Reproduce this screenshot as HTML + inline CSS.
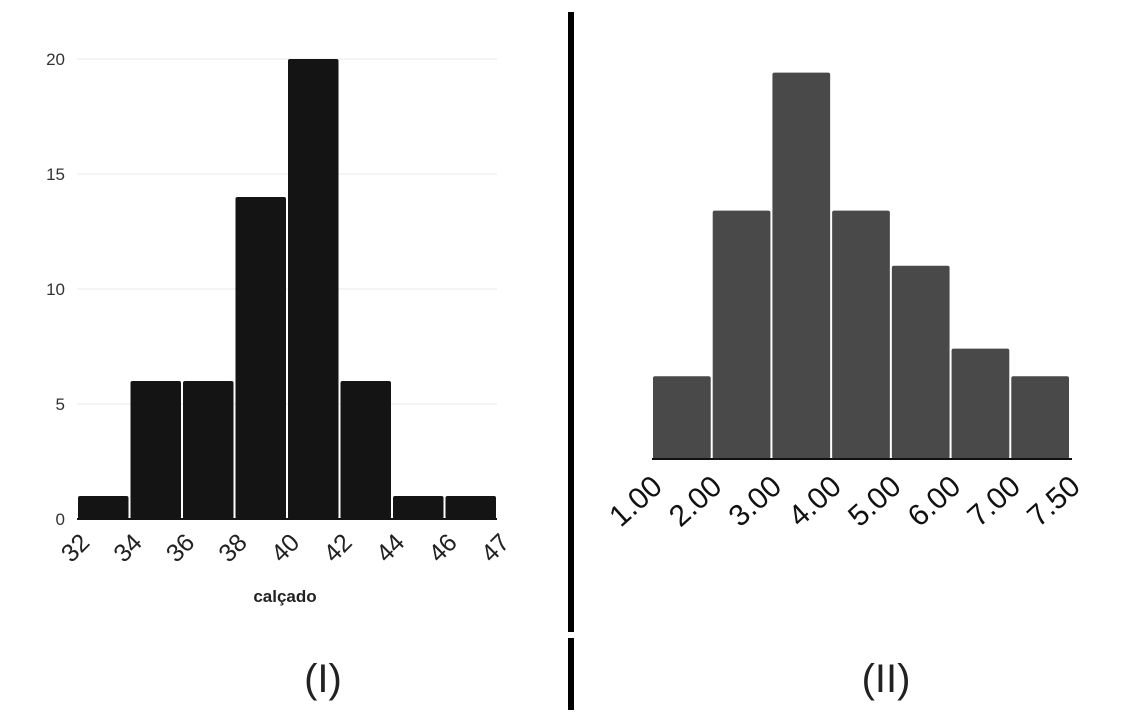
<!DOCTYPE html>
<html><head><meta charset="utf-8"><style>
body{margin:0;background:#fff;width:1137px;height:715px;overflow:hidden}
svg{display:block}
</style></head><body>
<svg id="s" width="1137" height="715" xmlns="http://www.w3.org/2000/svg" font-family="Liberation Sans, sans-serif">
<rect x="568" y="12" width="6" height="620" fill="#000"/>
<rect x="568" y="638" width="6" height="72" fill="#000"/>
<text x="323" y="692" font-size="40" text-anchor="middle" fill="#222">(I)</text>
<text x="886" y="692" font-size="40" text-anchor="middle" fill="#222">(II)</text>
<text x="285" y="602" font-size="17" font-weight="bold" text-anchor="middle" fill="#222">calçado</text>
<g id="left"></g>
<g id="right"></g>
</svg>
<script>
const leftEdgeLabels=["32","34","36","38","40","42","44","46","47"];
const leftCounts=[1,6,6,14,20,6,1,1];
const leftYTicks=[0,5,10,15,20];
const rightEdgeLabels=["1.00","2.00","3.00","4.00","5.00","6.00","7.00","7.50"];
const rightCounts=[3,9,14,9,7,4,3];

const NS="http://www.w3.org/2000/svg";
function mk(tag,attrs,parent){const e=document.createElementNS(NS,tag);for(const k in attrs)e.setAttribute(k,attrs[k]);parent.appendChild(e);return e;}

// left chart
const L=document.getElementById('left');
const lx0=77,lx1=497,ly0=519,ly20=59;
const ly=v=>ly0-(v/20)*(ly0-ly20);
const lw=(lx1-lx0)/leftCounts.length;
const lxs=i=>lx0+i*lw;
leftYTicks.forEach(t=>{
  if(t>0){const g=mk('line',{x1:lx0,x2:lx1,y1:ly(t),y2:ly(t),stroke:'#e8e8e8','stroke-width':1},L);
  
  }
  const tx=mk('text',{x:65,y:ly(t)+6,'font-size':17,'text-anchor':'end',fill:'#333'},L);tx.textContent=t;
  
  
});
leftCounts.forEach((c,i)=>{
  const r=mk('rect',{x:lxs(i)+1,y:ly(c),width:lw-2,height:ly0-ly(c),fill:'#141414',rx:2},L);
  
  
});
const lb=mk('line',{x1:lx0,x2:lx1,y1:ly0,y2:ly0,stroke:'#141414','stroke-width':2},L);


leftEdgeLabels.forEach((s,i)=>{
  const x=lxs(i)+14,y=ly0+25;
  const t=mk('text',{x:x,y:y,'font-size':25,'text-anchor':'end',fill:'#222',transform:`rotate(-45 ${x} ${y})`},L);t.textContent=s;
  
  
});

// right chart
const R=document.getElementById('right');
const rx0=652,rx1=1070,ry0=459,unit=27.6;
const ry=v=>ry0-v*unit;
const rw=(rx1-rx0)/rightCounts.length;
const rxs=i=>rx0+i*rw;
rightCounts.forEach((c,i)=>{
  const r=mk('rect',{x:rxs(i)+1,y:ry(c),width:rw-2,height:ry0-ry(c),fill:'#494949',rx:2},R);
  
  
});
const rb=mk('line',{x1:rx0,x2:rx1+2,y1:ry0,y2:ry0,stroke:'#111','stroke-width':2},R);


rightEdgeLabels.forEach((s,i)=>{
  const x=(i<rightEdgeLabels.length-1?rxs(i):rx1)+12,y=ry0+30;
  const t=mk('text',{x:x,y:y,'font-size':30,'text-anchor':'end',fill:'#111',transform:`rotate(-42 ${x} ${y})`},R);t.textContent=s;
  
  
});
</script>
</body></html>
